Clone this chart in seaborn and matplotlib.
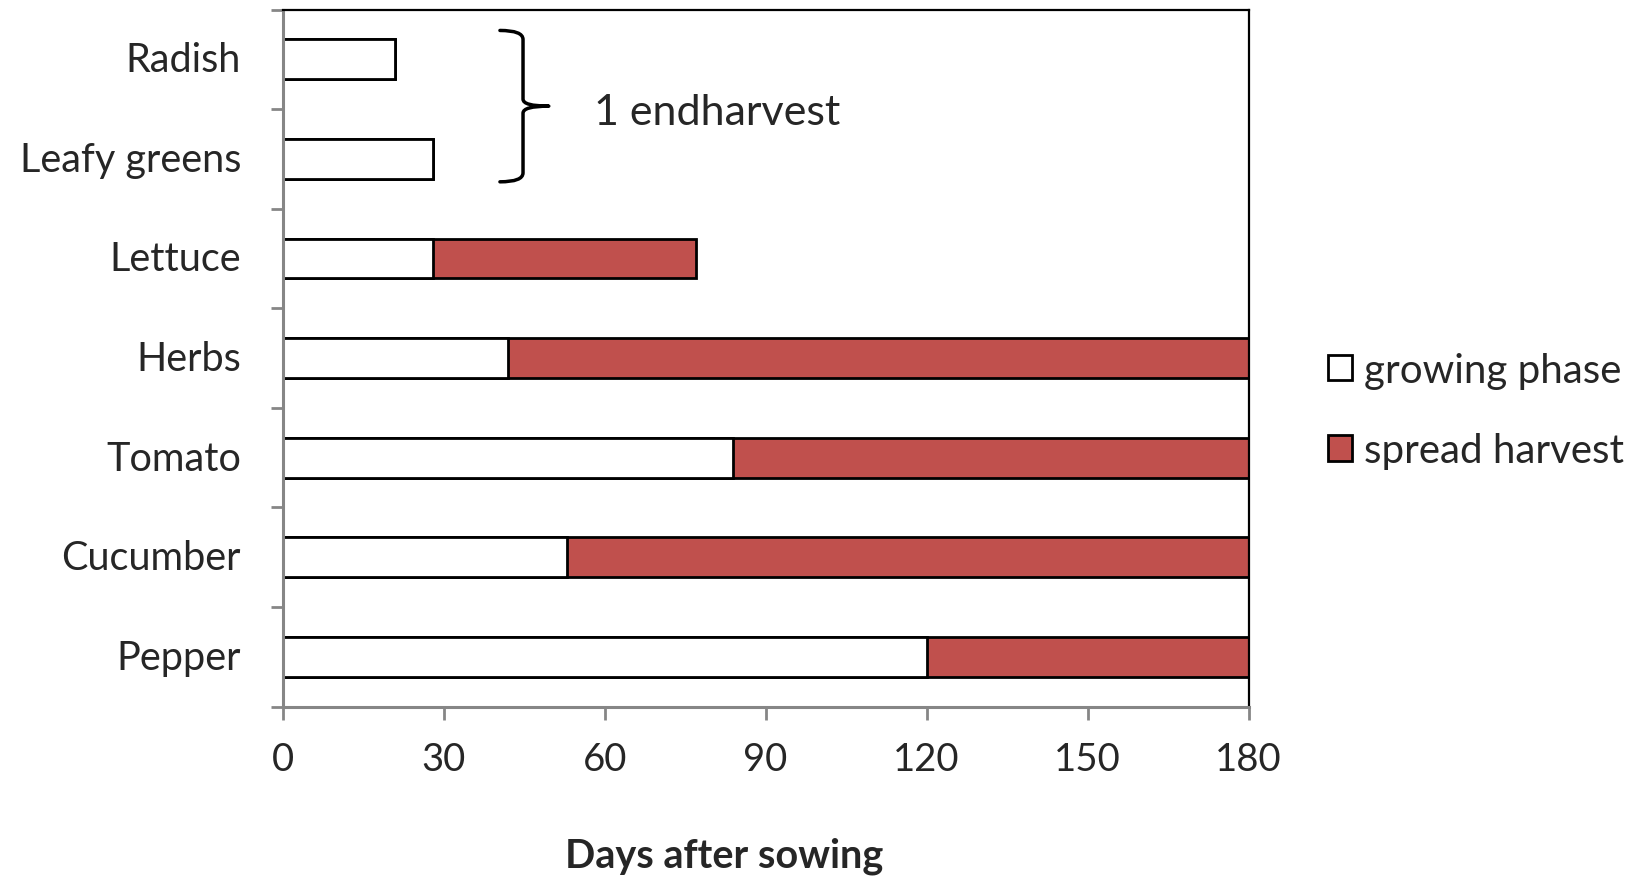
import matplotlib
matplotlib.use("Agg")
import matplotlib.pyplot as plt
import matplotlib.transforms as mtransforms
import seaborn as sns
import pandas as pd
from matplotlib.patches import Patch, PathPatch
from matplotlib.path import Path

# Crop timelines in days after sowing
crops = ["Radish", "Leafy greens", "Lettuce", "Herbs", "Tomato", "Cucumber", "Pepper"]
growing = [21, 28, 28, 42, 84, 53, 120]
spread = [0, 0, 49, 138, 96, 127, 60]
x_ticks = [0, 30, 60, 90, 120, 150, 180]

RED = "#C0504D"
GREY = "#868686"
FONT = ["Lato", "DejaVu Sans"]

sns.set_theme(style="white")
plt.rcParams["font.family"] = FONT

df = pd.DataFrame({
    "crop": crops,
    "growing": growing,
    "end": [g + s for g, s in zip(growing, spread)],
})

fig = plt.figure(figsize=(16.41, 8.79), dpi=100)
ax = fig.add_axes([0.1722, 0.195, 0.5887, 0.793])

# total span in red, growing phase drawn on top in white
sns.barplot(data=df, x="end", y="crop", order=crops, color=RED, saturation=1,
            edgecolor="black", linewidth=2.0, width=0.4, ax=ax)
sns.barplot(data=df, x="growing", y="crop", order=crops, color="white", saturation=1,
            edgecolor="black", linewidth=2.0, width=0.4, ax=ax)

ax.set_xlim(0, 180)
ax.set_ylim(len(crops) - 0.5, -0.5)
ax.set_xticks(x_ticks)
ax.set_xticklabels([str(t) for t in x_ticks])
ax.set_xlabel("")
ax.set_ylabel("")

# y ticks sit between categories; labels stay centred on bars
ax.set_yticks([i - 0.5 for i in range(len(crops) + 1)], minor=True)
ax.tick_params(axis="y", which="major", length=0, pad=30, labelsize=28.5)
ax.tick_params(axis="y", which="minor", length=9, width=2, color=GREY, direction="out", left=True)
ax.tick_params(axis="x", which="major", length=9, width=2, color=GREY, direction="out",
               pad=16, labelsize=27.5, bottom=True)
lift = mtransforms.ScaledTranslation(0, 0.03, fig.dpi_scale_trans)
for lab in ax.get_yticklabels():
    lab.set_transform(lab.get_transform() + lift)

for side in ("left", "bottom"):
    ax.spines[side].set_color(GREY)
    ax.spines[side].set_linewidth(2.2)
for side in ("top", "right"):
    ax.spines[side].set_color("black")
    ax.spines[side].set_linewidth(1.6)
for sp in ax.spines.values():
    sp.set_zorder(5)

# curly brace grouping the single-harvest crops
xl, xs, xt = 40.5, 44.8, 49.6
ytop, ybot, ymid = -0.29, 1.23, 0.47
verts = [
    (xl, ytop), (xs, ytop), (xs, ytop + 0.09),
    (xs, ymid - 0.07), (xs, ymid), (xt, ymid),
    (xs, ymid), (xs, ymid + 0.07),
    (xs, ybot - 0.09), (xs, ybot), (xl, ybot),
]
codes = [
    Path.MOVETO, Path.CURVE3, Path.CURVE3,
    Path.LINETO, Path.CURVE3, Path.CURVE3,
    Path.CURVE3, Path.CURVE3,
    Path.LINETO, Path.CURVE3, Path.CURVE3,
]
ax.add_patch(PathPatch(Path(verts, codes), fill=False, lw=2.5, edgecolor="black",
                       capstyle="round", joinstyle="round", zorder=6))
ax.text(58.1, 0.53, "1 endharvest", fontsize=31, va="center", ha="left")

fig.text(0.441, 0.026, "Days after sowing", fontsize=28.5, fontweight="bold",
         ha="center", va="center")

handles = [
    Patch(facecolor="white", edgecolor="black", linewidth=2.0, label="growing phase"),
    Patch(facecolor=RED, edgecolor="black", linewidth=2.0, label="spread harvest"),
]
fig.legend(handles=handles, loc="center left", bbox_to_anchor=(0.809, 0.532),
           frameon=False, fontsize=29, handlelength=0.6, handleheight=0.6,
           handletextpad=0.3, labelspacing=1.07, borderpad=0, borderaxespad=0)

fig.savefig("out.png", dpi=100, facecolor="white")
